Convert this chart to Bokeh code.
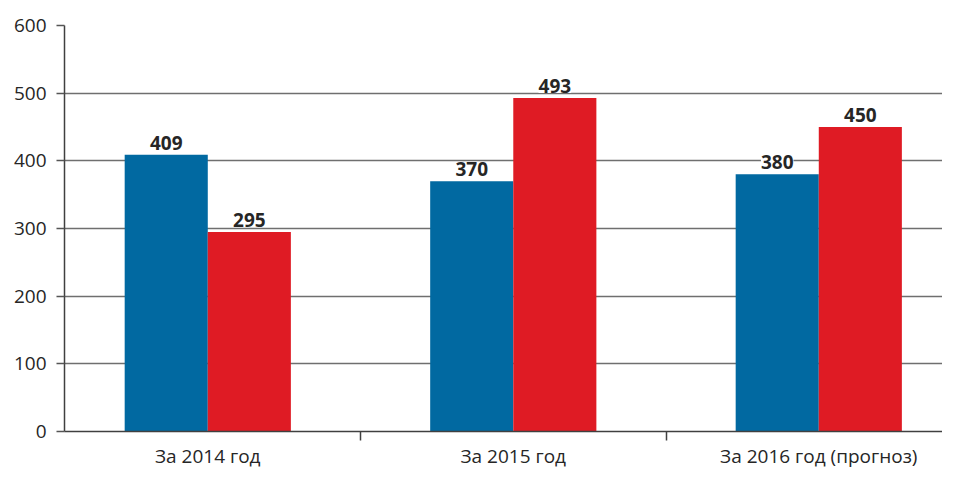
from bokeh.plotting import figure
from bokeh.models import ColumnDataSource, Range1d, FixedTicker, LabelSet
from bokeh.core.properties import value
from bokeh.embed import file_html
from bokeh.resources import INLINE

categories = ["За 2014 год", "За 2015 год", "За 2016 год (прогноз)"]
series_a = [409, 370, 380]
series_b = [295, 493, 450]
y_ticks = [0, 100, 200, 300, 400, 500, 600]

BLUE = "#0169A1"
RED = "#DF1B24"
FONT = "Open Sans"
bar_w = 0.272

centers = [i + 0.5 for i in range(len(categories))]
boundaries = [i + 1 for i in range(len(categories) - 1)]

src_a = ColumnDataSource(dict(x=[c - bar_w / 2 for c in centers], top=series_a,
                              label=[str(v) for v in series_a]))
src_b = ColumnDataSource(dict(x=[c + bar_w / 2 for c in centers], top=series_b,
                              label=[str(v) for v in series_b]))

p = figure(width=942, height=471, output_backend="svg", toolbar_location=None,
           x_range=Range1d(0.031, 2.905), y_range=Range1d(0, 600),
           min_border_left=64, min_border_top=25, min_border_bottom=20, min_border_right=0)
p.outline_line_color = None
p.background_fill_color = "white"

p.vbar(x="x", top="top", width=bar_w, bottom=0, source=src_a, fill_color=BLUE, line_color=None)
p.vbar(x="x", top="top", width=bar_w, bottom=0, source=src_b, fill_color=RED, line_color=None)

for src in (src_a, src_b):
    p.add_layout(LabelSet(x="x", y="top", text="label", source=src, text_align="center",
                          text_baseline="bottom", y_offset=5, text_font=value(FONT),
                          text_font_size="19px", text_font_style="bold", text_color="#262626",
                          background_fill_color="white"))

# y axis
p.yaxis.ticker = FixedTicker(ticks=y_ticks)
p.yaxis.major_tick_in = 0
p.yaxis.major_tick_out = 8
p.yaxis.minor_tick_line_color = None
p.yaxis.axis_line_color = "#404040"
p.yaxis.axis_line_width = 1.5
p.yaxis.major_tick_line_color = "#555555"
p.yaxis.major_tick_line_width = 1.5
p.yaxis.major_label_text_font = FONT
p.yaxis.major_label_text_font_size = "19px"
p.yaxis.major_label_text_color = "#262626"
p.yaxis.major_label_standoff = 10

p.ygrid.ticker = FixedTicker(ticks=y_ticks)
p.ygrid.grid_line_color = "#6f6f6f"
p.ygrid.grid_line_width = 1.6
p.xgrid.grid_line_color = None

# x axis
p.xaxis.ticker = FixedTicker(ticks=centers, minor_ticks=boundaries)
p.xaxis.major_label_overrides = {c: lab for c, lab in zip(centers, categories)}
p.xaxis.major_tick_line_color = None
p.xaxis.major_tick_in = 0
p.xaxis.major_tick_out = 0
p.xaxis.minor_tick_in = 0
p.xaxis.minor_tick_out = 9
p.xaxis.minor_tick_line_color = "#404040"
p.xaxis.minor_tick_line_width = 1.5
p.xaxis.axis_line_color = "#404040"
p.xaxis.axis_line_width = 1.5
p.xaxis.major_label_text_font = FONT
p.xaxis.major_label_text_font_size = "19px"
p.xaxis.major_label_text_color = "#262626"
p.xaxis.major_label_standoff = 2

open("out.html", "w").write(file_html(p, INLINE))
